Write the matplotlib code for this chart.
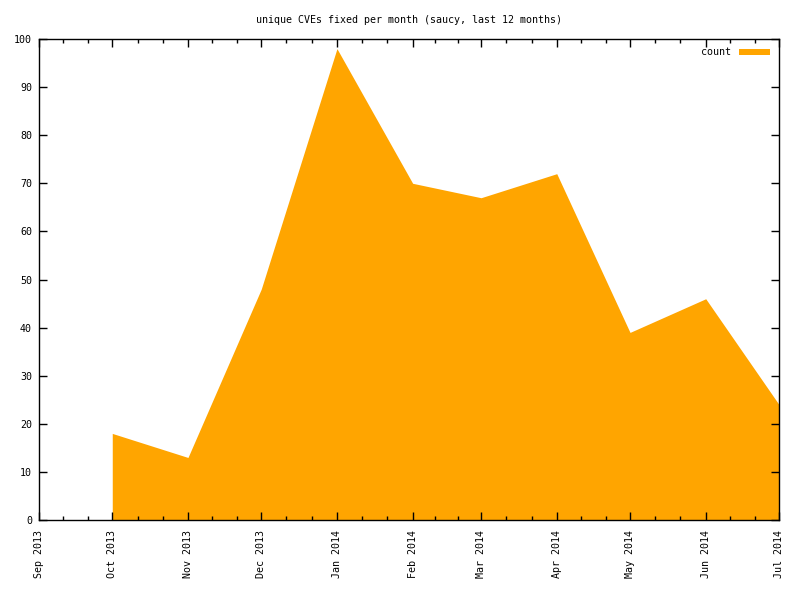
import datetime as dt
import matplotlib
matplotlib.use('Agg')
import matplotlib.pyplot as plt
import matplotlib.dates as mdates
from matplotlib.patches import Rectangle

# monthly counts of unique CVEs fixed
months = ['2013-10', '2013-11', '2013-12', '2014-01', '2014-02',
          '2014-03', '2014-04', '2014-05', '2014-06', '2014-07']
counts = [18, 13, 48, 98, 70, 67, 72, 39, 46, 24]
title = 'unique CVEs fixed per month (saucy, last 12 months)'
series_label = 'count'

dates = [dt.datetime.strptime(m, '%Y-%m') for m in months]
x = mdates.date2num(dates)

plt.rcParams['font.family'] = ['DejaVu Sans Mono']
plt.rcParams['font.size'] = 7.2

fig = plt.figure(figsize=(8, 6), dpi=100)
ax = fig.add_axes([39 / 800, 80 / 600, 740 / 800, 481 / 600])

ax.fill_between(x, counts, 0, color='#FFA500', linewidth=0)

xmin = mdates.date2num(dt.datetime(2013, 9, 1))
xmax = mdates.date2num(dt.datetime(2014, 7, 1))
ax.set_xlim(xmin, xmax)
ax.set_ylim(0, 100)

# major ticks on month starts, minor at thirds of each month
ax.xaxis.set_major_locator(mdates.MonthLocator())
ax.xaxis.set_major_formatter(mdates.DateFormatter('%b %Y'))
minor = []
starts = [dt.datetime(2013 + (8 + i) // 12, (8 + i) % 12 + 1, 1) for i in range(11)]
for a, b in zip(starts[:-1], starts[1:]):
    na, nb = mdates.date2num(a), mdates.date2num(b)
    minor += [na + (nb - na) / 3, na + 2 * (nb - na) / 3]
ax.set_xticks(minor, minor=True)
ax.set_yticks(range(0, 101, 10))

ax.tick_params(axis='both', which='both', direction='in',
               top=True, right=True, color='black', width=1)
ax.tick_params(which='major', length=6, labelsize=7.2)
ax.tick_params(which='minor', length=3)
ax.tick_params(axis='x', pad=7)
ax.tick_params(axis='y', pad=5)
for lbl in ax.get_xticklabels():
    lbl.set_rotation(90)
for sp in ax.spines.values():
    sp.set_linewidth(1)
    sp.set_color('black')

ax.set_title(title, fontsize=7.2, pad=11.5)

# gnuplot-style key at top right
ax.add_patch(Rectangle((0.946, 0.967), 0.042, 0.0125, transform=ax.transAxes,
                       color='#FFA500', linewidth=0))
ax.text(0.935, 0.973, series_label, transform=ax.transAxes,
        ha='right', va='center', fontsize=7.2)

fig.savefig('out.png', dpi=100)
